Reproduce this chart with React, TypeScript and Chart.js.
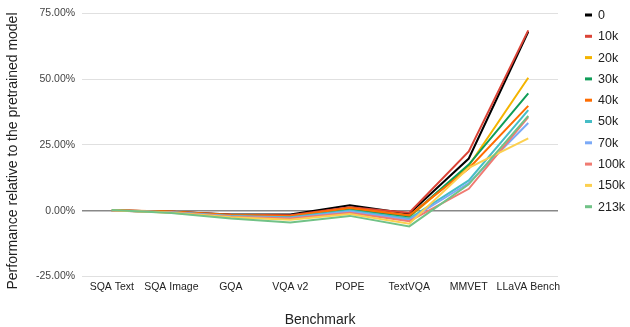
import React, { useEffect, useRef } from "react";
import { Chart, registerables } from "chart.js";

Chart.register(...registerables);

const categories = ["SQA Text", "SQA Image", "GQA", "VQA v2", "POPE", "TextVQA", "MMVET", "LLaVA Bench"];
const seriesNames = ["0", "10k", "20k", "30k", "40k", "50k", "70k", "100k", "150k", "213k"];
const seriesColors = ["#000000", "#db4437", "#f4b400", "#0f9d58", "#ff6d01", "#46bdc6", "#7baaf7", "#f07b72", "#fcd04f", "#71c287"];

const s0 = [0.1, -0.4, -1.5, -1.5, 2.0, -1.2, 19.8, 68.0];
const s10k = [0.1, -0.4, -1.6, -1.8, 1.3, -0.8, 22.5, 68.5];
const s20k = [0.0, -0.5, -1.9, -2.5, 0.6, -2.5, 17.0, 50.5];
const s30k = [0.0, -0.5, -1.8, -2.2, 0.4, -2.2, 17.5, 44.6];
const s40k = [0.1, -0.3, -1.7, -2.0, 1.0, -1.8, 16.0, 39.8];
const s50k = [0.0, -0.6, -2.0, -2.5, 0.0, -3.0, 11.5, 38.2];
const s70k = [0.0, -0.6, -2.1, -2.8, -0.3, -3.5, 10.5, 33.3];
const s100k = [0.0, -0.7, -2.3, -3.0, -0.8, -4.0, 8.3, 35.5];
const s150k = [0.1, -0.8, -2.5, -3.5, -1.3, -5.0, 16.3, 27.5];
const s213k = [0.2, -0.9, -3.0, -4.5, -2.0, -6.0, 10.0, 36.0];
const seriesValues = [s0, s10k, s20k, s30k, s40k, s50k, s70k, s100k, s150k, s213k];

const yTicks = [-25, 0, 25, 50, 75];
const xTitle = "Benchmark";
const yTitle = "Performance relative to the pretrained model";

const FONT = "Liberation Sans, Arial, sans-serif";

const overlay = {
  id: "overlay",
  afterDraw(chart: any) {
    const ctx = chart.ctx;
    const area = chart.chartArea;
    ctx.save();
    ctx.fillStyle = "#222";
    ctx.font = `14px ${FONT}`;
    ctx.textAlign = "center";
    ctx.textBaseline = "middle";
    ctx.fillText(xTitle, (area.left + area.right) / 2, 320);
    ctx.save();
    ctx.translate(13, 151);
    ctx.rotate(-Math.PI / 2);
    ctx.fillText(yTitle, 0, 0);
    ctx.restore();
    ctx.font = `12.5px ${FONT}`;
    ctx.textAlign = "left";
    chart.data.datasets.forEach((ds: any, i: number) => {
      const y = 15 + i * 21.3;
      ctx.fillStyle = ds.borderColor;
      ctx.fillRect(585, y - 1.5, 7, 3);
      ctx.fillStyle = "#222";
      ctx.fillText(ds.label, 598, y + 0.5);
    });
    ctx.restore();
  },
};

export default function App() {
  const ref = useRef<HTMLCanvasElement | null>(null);
  useEffect(() => {
    document.body.style.margin = "0";
    const ctx = ref.current!;
    const chart = new Chart(ctx, {
      type: "line",
      data: {
        labels: categories,
        datasets: seriesNames.map((n, i) => ({
          label: n,
          data: seriesValues[i],
          borderColor: seriesColors[i],
          backgroundColor: seriesColors[i],
          borderWidth: 2,
          pointRadius: 0,
          tension: 0,
          fill: false,
          order: seriesNames.length - i,
        })),
      },
      options: {
        animation: false,
        responsive: false,
        maintainAspectRatio: false,
        layout: { padding: { top: 10, right: 72, left: 29, bottom: 30 } },
        plugins: {
          tooltip: { enabled: false },
          legend: { display: false },
        },
        scales: {
          x: {
            offset: true,
            grid: { display: false, drawTicks: false },
            border: { display: false },
            ticks: {
              color: "#222",
              font: { family: FONT, size: 10.5 },
              padding: 4,
              maxRotation: 0,
              autoSkip: false,
            },
          },
          y: {
            min: -25,
            max: 75,
            afterBuildTicks: (axis: any) => {
              axis.ticks = yTicks.map((v) => ({ value: v }));
            },
            grid: {
              drawTicks: false,
              color: (c: any) => (c.tick && c.tick.value === 0 ? "#888888" : "#e0e0e0"),
              lineWidth: (c: any) => (c.tick && c.tick.value === 0 ? 1.5 : 1),
            },
            border: { display: false },
            ticks: {
              color: "#444",
              font: { family: FONT, size: 10.5 },
              padding: 7,
              callback: (v: any) => Number(v).toFixed(2) + "%",
            },
          },
        },
      },
      plugins: [overlay],
    });
    return () => chart.destroy();
  }, []);
  return <canvas ref={ref} width={630} height={327} style={{ display: "block" }} />;
}
